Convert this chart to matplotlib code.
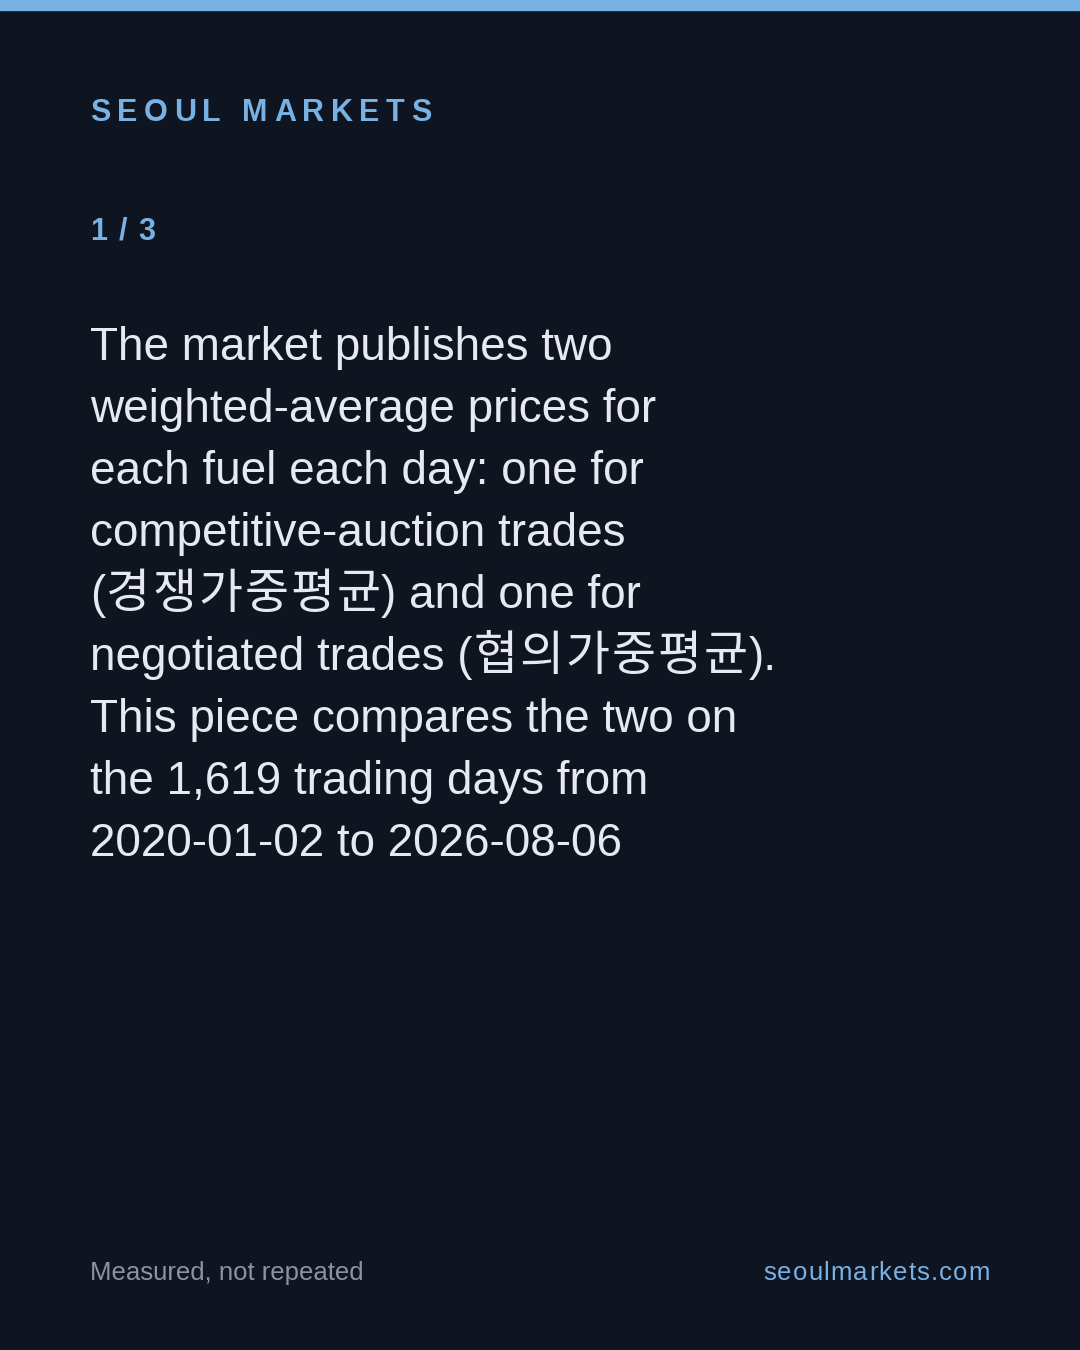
import matplotlib
matplotlib.use('Agg')
import matplotlib.pyplot as plt

# ______________________________________________________________________________
# CONTENT
# ______________________________________________________________________________

brand = 'SEOUL MARKETS'
page = '1 / 3'
body_lines = [
    'The market publishes two',
    'weighted-average prices for',
    'each fuel each day: one for',
    'competitive-auction trades',
    '(경쟁가중평균) and one for',
    'negotiated trades (협의가중평균).',
    'This piece compares the two on',
    'the 1,619 trading days from',
    '2020-01-02 to 2026-08-06',
]
footer_left = 'Measured, not repeated'
footer_right = 'seoulmarkets.com'

# ______________________________________________________________________________
# STYLE
# ______________________________________________________________________________

W, H = 1080, 1350
bg = '#0e1420'
accent = '#78b1e4'
body_col = '#e6e9ef'
muted = '#8b939e'
fonts = ['Liberation Sans', 'Noto Sans CJK KR', 'DejaVu Sans']
plt.rcParams['font.family'] = fonts

fig = plt.figure(figsize=(W / 100, H / 100), dpi=100, facecolor=bg)


def fx(x):
    return x / W


def fy(y):
    return 1 - y / H


# top accent bar
fig.patches.append(plt.Rectangle((0, fy(10)), 1, 10 / H, transform=fig.transFigure,
                                 color=accent, zorder=5))

renderer = fig.canvas.get_renderer()


def char_width(ch, size, **kw):
    if ch == ' ':
        return size * 100 / 72 * 0.278
    t = fig.text(0, 0, ch, fontsize=size, **kw)
    w = t.get_window_extent(renderer).width
    t.remove()
    return w


def tracked(text, x, y, size, tracking, ha='left', **kw):
    # draw character by character to fake letter spacing
    widths = [char_width(ch, size, **kw) for ch in text]
    if ha == 'right':
        x -= sum(widths) + tracking * (len(text) - 1)
    for ch, w in zip(text, widths):
        fig.text(fx(x), fy(y), ch, fontsize=size, va='baseline', ha='left', **kw)
        x += w + tracking


def is_hangul(ch):
    return '\uac00' <= ch <= '\ud7a3'


def body_line(line, x, y, size, ko_size, ko_adv):
    # split into latin / hangul runs; hangul set on its own pitch
    runs = []
    for ch in line:
        k = is_hangul(ch)
        if runs and runs[-1][0] == k:
            runs[-1][1] += ch
        else:
            runs.append([k, ch])
    for k, s in runs:
        if k:
            for ch in s:
                fig.text(fx(x + 1), fy(y), ch, fontsize=ko_size, color=body_col,
                         va='baseline', ha='left', family='Noto Sans CJK KR')
                x += ko_adv
        else:
            t = fig.text(fx(x), fy(y), s, fontsize=size, color=body_col,
                         va='baseline', ha='left')
            x += t.get_window_extent(renderer).width


tracked(brand, 90, 121, 22, 6.4, color=accent, fontweight='bold')
tracked(page, 90, 240, 22, 1.5, color=accent, fontweight='bold')

for i, line in enumerate(body_lines):
    body_line(line, 90, 360 + 62 * i, 33, 34.5, 46)

fig.text(fx(90), fy(1280), footer_left, fontsize=18.5, color=muted, va='baseline', ha='left')
tracked(footer_right, 990, 1280, 18.5, 1.2, ha='right', color=accent)

fig.savefig('out.png', dpi=100, facecolor=bg)
